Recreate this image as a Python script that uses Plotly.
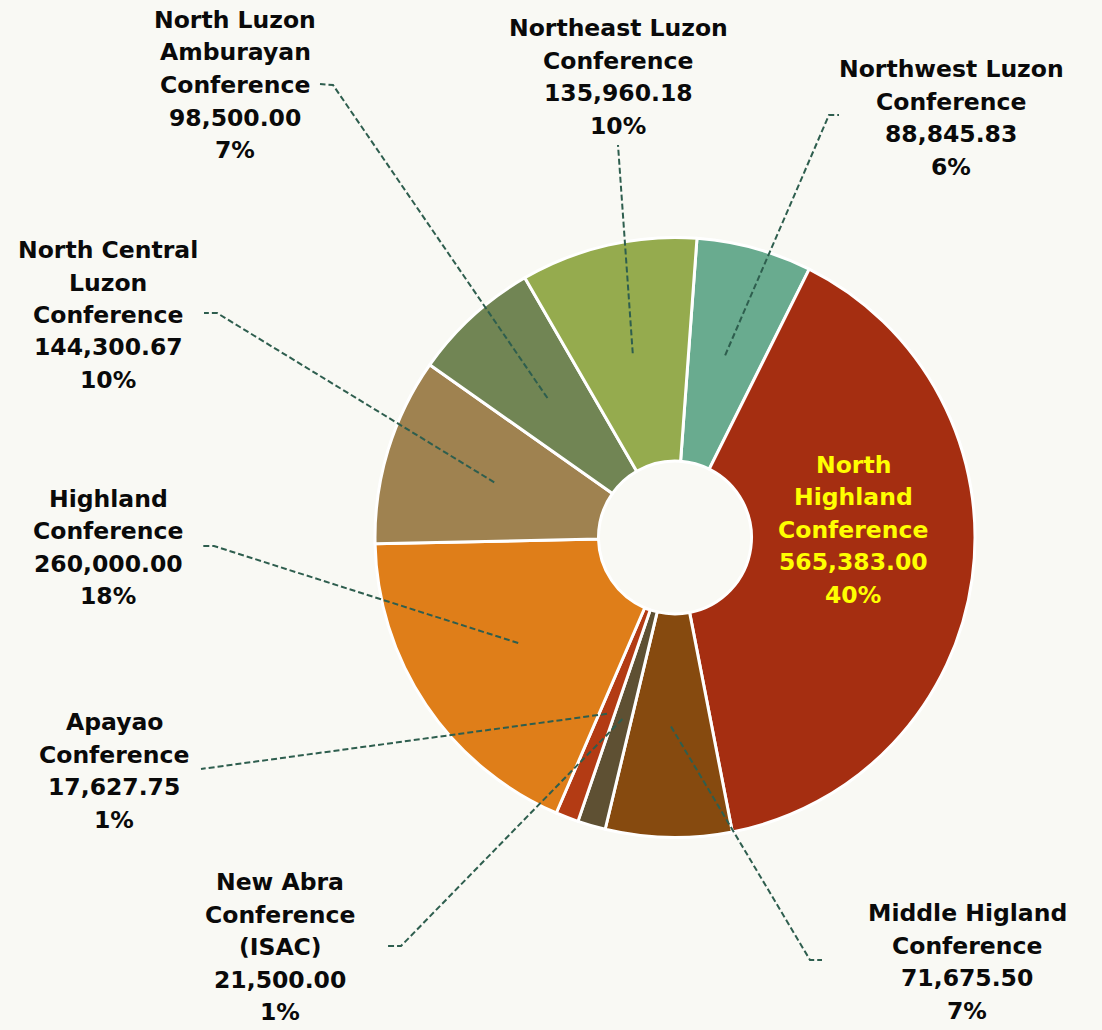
import math
import plotly.graph_objects as go

# ---------------- data ----------------
conferences = [
    "Northwest Luzon Conference",
    "North Highland Conference",
    "Middle Higland Conference",
    "New Abra Conference (ISAC)",
    "Apayao Conference",
    "Highland Conference",
    "North Central Luzon Conference",
    "North Luzon Amburayan Conference",
    "Northeast Luzon Conference",
]
# slice sizes as drawn (Middle Higland slice is drawn at ~7% of the circle)
slice_values = [88845.83, 565383.00, 97200.00, 21500.00, 17627.75,
                260000.00, 144300.67, 98500.00, 135960.18]
# texts printed in the labels
label_amounts = ["88,845.83", "565,383.00", "71,675.50", "21,500.00", "17,627.75",
                 "260,000.00", "144,300.67", "98,500.00", "135,960.18"]
label_percents = ["6%", "40%", "7%", "1%", "1%", "18%", "10%", "7%", "10%"]
label_name_lines = [
    ["Northwest Luzon", "Conference"],
    ["North", "Highland", "Conference"],
    ["Middle Higland", "Conference"],
    ["New Abra", "Conference", "(ISAC)"],
    ["Apayao", "Conference"],
    ["Highland", "Conference"],
    ["North Central", "Luzon", "Conference"],
    ["North Luzon", "Amburayan", "Conference"],
    ["Northeast Luzon", "Conference"],
]
colors = ["#69AB8F", "#A52E11", "#864A0F", "#5E5033", "#B33B14",
          "#DF7E19", "#9F8250", "#718554", "#95AB4E"]

# ---------------- layout / styling ----------------
W, H = 1102, 1030
CX, CY, R = 675.0, 537.5, 300.0     # pie centre & radius in pixels
ROTATION = 4.2
HOLE = 0.255
BG = "#F9F9F4"
LEADER_COLOR = "#2E5E4E"
LINE_GAP = 32.5
FONT = "DejaVu Sans"
FSIZE = 23.5

# label block centres (pixels) and leader-line knee / end points (pixels)
label_pos = [
    (951, 118), (853, 529.5), (967, 962), (280, 947), (114, 771),
    (108, 547.5), (108, 315), (235, 85), (618, 77),
]
leader_knee = [
    (829, 115), None, (810, 960), (401, 946), (201, 769),
    (214, 546), (217, 313), (333, 85), (618, 145),
]
leader_end = [
    (839, 115), None, (822, 960), (387, 946), (201, 769),
    (203, 546), (204, 313), (320, 84), (618, 145),
]
leader_r_frac = 0.63


def px_to_paper(x, y):
    return x / W, 1 - y / H


fig = go.Figure()
fig.add_trace(go.Pie(
    labels=conferences,
    values=slice_values,
    hole=HOLE,
    sort=False,
    direction="clockwise",
    rotation=ROTATION,
    marker=dict(colors=colors, line=dict(color="#FFFFFF", width=3)),
    textinfo="none",
    hoverinfo="label+value+percent",
    showlegend=False,
    domain=dict(x=[(CX - R) / W, (CX + R) / W],
                y=[1 - (CY + R) / H, 1 - (CY - R) / H]),
))

# leader lines start from each slice's mid-angle (computed from the data)
total = sum(slice_values)
cum = 0.0
shapes = []
annotations = []
for i, v in enumerate(slice_values):
    mid = math.radians(ROTATION + 360.0 * (cum + v / 2.0) / total)
    cum += v
    if leader_knee[i] is not None:
        sx = CX + leader_r_frac * R * math.sin(mid)
        sy = CY - leader_r_frac * R * math.cos(mid)
        pts = [(sx, sy), leader_knee[i], leader_end[i]]
        path = ""
        for j, (x, y) in enumerate(pts):
            px, py = px_to_paper(x, y)
            path += ("M" if j == 0 else " L") + f"{px:.5f},{py:.5f}"
        shapes.append(dict(type="path", path=path, xref="paper", yref="paper",
                           line=dict(color=LEADER_COLOR, width=2, dash="6px,3px")))
    lines = label_name_lines[i] + [label_amounts[i], label_percents[i]]
    color = "#FFFF00" if i == 1 else "#0A0A0A"
    bx, by = label_pos[i]
    n = len(lines)
    for k, t in enumerate(lines):
        ly = by + (k - (n - 1) / 2.0) * LINE_GAP
        px, py = px_to_paper(bx, ly)
        annotations.append(dict(
            x=px, y=py, xref="paper", yref="paper", text=f"<b>{t}</b>",
            showarrow=False, xanchor="center", yanchor="middle",
            font=dict(family=FONT, size=FSIZE, color=color),
        ))

fig.update_layout(
    width=W, height=H,
    margin=dict(l=0, r=0, t=0, b=0),
    paper_bgcolor=BG, plot_bgcolor=BG,
    shapes=shapes,
    annotations=annotations,
)

fig.write_html(
    "out.html",
    config={"displayModeBar": False},
    post_script="document.body.style.margin='0';document.body.style.padding='0';",
)
